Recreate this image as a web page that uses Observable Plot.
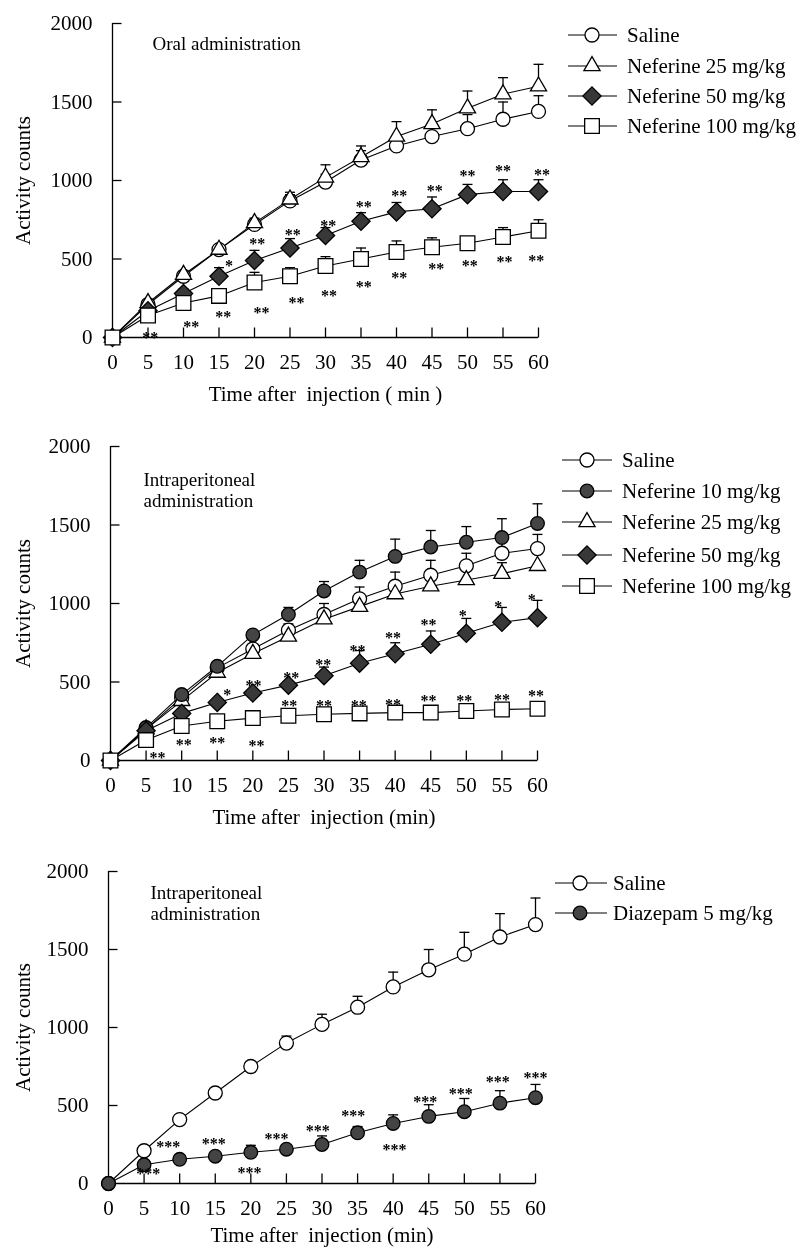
<!DOCTYPE html>
<html><head><meta charset="utf-8">
<script src="https://cdn.jsdelivr.net/npm/d3@7"></script>
<script src="https://cdn.jsdelivr.net/npm/@observablehq/plot@0.6"></script>
<style>
body{margin:0;background:#fff;}
#root{position:relative;width:801px;height:1250px;overflow:hidden;font-family:"Liberation Serif",serif;background:#fff;}
#root > svg, #root > figure{position:absolute;left:0;margin:0;will-change:transform;}
</style></head><body><div id="root"></div>
<script>
// ---------- data ----------
const time = [0,5,10,15,20,25,30,35,40,45,50,55,60];
const xTicks = [0,5,10,15,20,25,30,35,40,45,50,55,60];
const yTicks = [0,500,1000,1500,2000];

// Panel 1: oral administration
const p1Saline    = [0,210,390,560,720,870,990,1130,1220,1280,1330,1390,1440];
const p1SalineErr = [0,0,0,0,0,40,50,60,60,60,90,110,100];
const p1N25       = [0,220,400,560,730,880,1020,1150,1280,1360,1460,1550,1600];
const p1N25Err    = [0,0,0,20,30,45,80,70,95,90,110,105,140];
const p1N50       = [0,170,280,390,490,570,650,740,800,820,910,930,930];
const p1N50Err    = [0,0,30,55,65,60,50,55,60,75,65,75,75];
const p1N100      = [0,140,220,265,350,390,455,500,545,575,600,640,680];
const p1N100Err   = [0,0,0,0,65,55,60,70,70,60,0,60,70];
const p1SigX = [16.4,20.4,25.4,30.4,35.4,40.4,45.4,50,55,60.5, 5.3,11.1,15.6,21,25.9,30.5,35.4,40.4,45.6,50.3,55.2,59.7];
const p1SigY = [479,621,681,737,858,925,960,1053,1085,1064, 22,90,155,181,249,293,347,407,460,484,505,515];
const p1SigT = ["*","**","**","**","**","**","**","**","**","**", "**","**","**","**","**","**","**","**","**","**","**","**"];

// Panel 2: intraperitoneal neferine
const p2Saline    = [0,200,400,590,710,830,930,1030,1110,1180,1240,1320,1350];
const p2SalineErr = [0,0,0,0,0,40,70,75,90,95,80,80,90];
const p2N10       = [0,210,420,600,800,930,1080,1200,1300,1360,1390,1420,1510];
const p2N10Err    = [0,0,0,0,0,45,60,75,110,105,100,120,125];
const p2N25       = [0,200,380,560,680,790,900,980,1060,1110,1150,1190,1240];
const p2N25Err    = [0,0,0,0,0,30,40,50,60,70,70,70,0];
const p2N50       = [0,190,300,370,430,480,540,620,680,740,810,880,910];
const p2N50Err    = [0,0,0,0,0,0,55,80,70,85,95,95,110];
const p2N100      = [0,130,220,250,270,285,295,300,305,305,315,325,330];
const p2N100Err   = [0,0,0,0,20,0,0,0,0,0,0,0,0];
const p2SigX = [16.4,20.1,25.4,29.9,34.7,39.7,44.7,49.5,54.5,59.2, 6.6,10.3,15,20.5,25.1,30,34.9,39.7,44.7,49.7,55,59.8];
const p2SigY = [446,503,552,633,722,807,892,945,1002,1051, 43,125,138,117,372,372,372,382,403,403,414,435];
const p2SigT = ["*","**","**","**","**","**","**","*","*","*", "**","**","**","**","**","**","**","**","**","**","**","**"];

// Panel 3: intraperitoneal diazepam
const p3Saline    = [0,210,410,580,750,900,1020,1130,1260,1370,1470,1580,1660];
const p3SalineErr = [0,0,0,0,0,45,65,70,95,130,140,150,170];
const p3Diaz      = [0,120,155,175,200,220,250,325,385,430,460,515,550];
const p3DiazErr   = [0,0,0,0,45,0,55,40,55,75,85,80,85];
const p3SigX = [5.6,8.4,14.8,19.8,23.6,29.4,34.4,40.2,44.5,49.5,54.7,60];
const p3SigY = [90,262,280,92,312,363,459,241,551,598,675,705];
const p3SigT = ["***","***","***","***","***","***","***","***","***","***","***","***"];

// ---------- styling helpers ----------
const FONT = "Liberation Serif";
const tickUp = {draw(ctx){ctx.moveTo(0,0);ctx.lineTo(0,-10);}};
const tickRight = {draw(ctx){ctx.moveTo(0,0);ctx.lineTo(9,0);}};
const capSym = {draw(ctx){ctx.moveTo(-5,0);ctx.lineTo(5,0);}};

const STY = {
  saline:  {symbol:"circle",   r:7,   fill:"white"},
  nefFill: {symbol:"circle",   r:6.8, fill:"#444444"},
  tri:     {symbol:"triangle", r:6,   fill:"white"},
  dia:     {symbol:"diamond2", r:8.2, fill:"#383838"},
  sq:      {symbol:"square",   r:8.3, fill:"white"}
};

function rows(vals, errs){ return time.map((t,i)=>({t, v:vals[i], e:errs[i]})); }

function panel(cfg){
  const series = cfg.series.map(s => ({...s, data: rows(s.values, s.errs)}));
  const sig = cfg.sigX.map((x,i)=>({x, y:cfg.sigY[i], s:cfg.sigT[i]}));
  const marks = [
    Plot.ruleY([0], {x1: xTicks[0], x2: xTicks[xTicks.length-1], stroke:"black", strokeWidth:1.3}),
    Plot.ruleX([0], {y1: yTicks[0], y2: yTicks[yTicks.length-1], stroke:"black", strokeWidth:1.3}),
    Plot.dot(xTicks.filter(d=>d>0), {x:d=>d, y:()=>0, symbol:tickUp, fill:"none", stroke:"black", strokeWidth:1.3}),
    Plot.dot(yTicks.filter(d=>d>0), {x:()=>0, y:d=>d, symbol:tickRight, fill:"none", stroke:"black", strokeWidth:1.3}),
  ];
  for (const s of series) {
    marks.push(Plot.line(s.data, {x:"t", y:"v", stroke:"black", strokeWidth:1.1}));
  }
  for (const s of series) {
    const eb = s.data.filter(d=>d.e>0);
    marks.push(Plot.ruleX(eb, {x:"t", y1:"v", y2:d=>d.v+d.e, stroke:"black", strokeWidth:1.3}));
    marks.push(Plot.dot(eb, {x:"t", y:d=>d.v+d.e, symbol:capSym, fill:"none", stroke:"black", strokeWidth:1.3}));
  }
  for (const s of series) {
    marks.push(Plot.dot(s.data, {x:"t", y:"v", symbol:s.style.symbol, r:s.style.r, fill:s.style.fill, stroke:"black", strokeWidth:1.3}));
  }
  marks.push(Plot.text(sig, {x:"x", y:"y", text:"s", fontSize:16, dy:4, fill:"black", fontWeight:"bold"}));
  marks.push(Plot.text([cfg.note], {frameAnchor:"top-left", dx:cfg.noteDx, dy:cfg.noteDy, textAnchor:"start", lineAnchor:"middle", fontSize:19, lineHeight:1.1}));
  marks.push(Plot.text(["Activity counts"], {frameAnchor:"left", dx:-(cfg.ml-23), rotate:-90, textAnchor:"middle", lineAnchor:"middle", fontSize:21}));
  marks.push(Plot.text([cfg.xTitle], {frameAnchor:"bottom", dy:cfg.xTitleDy, textAnchor:"middle", lineAnchor:"middle", fontSize:21}));

  const chart = Plot.plot({
    width: 801, height: cfg.height,
    marginLeft: cfg.ml, marginRight: 801 - cfg.xr, marginTop: 23, marginBottom: cfg.height - 23 - cfg.ph,
    style: {fontFamily: FONT, fontSize: "21px", background: "transparent", color: "black", overflow: "visible"},
    x: {domain:[0,60], ticks: xTicks, tickSize: 0, tickPadding: 17, label: null, tickFormat: d3.format("d")},
    y: {domain:[0,2000], ticks: yTicks, tickSize: 0, tickPadding: 20, label: null, tickFormat: d3.format("d")},
    marks
  });
  chart.style.top = cfg.top + "px";
  document.getElementById("root").appendChild(chart);
}

panel({
  top: 0, height: 415, ml: 112, xr: 538, ph: 314,
  note: "Oral administration", noteDx: 40, noteDy: 20,
  xTitle: "Time after\u00a0 injection ( min )", xTitleDy: 57,
  sigX: p1SigX, sigY: p1SigY, sigT: p1SigT,
  series: [
    {values:p1Saline, errs:p1SalineErr, style:STY.saline},
    {values:p1N25, errs:p1N25Err, style:STY.tri},
    {values:p1N50, errs:p1N50Err, style:STY.dia},
    {values:p1N100, errs:p1N100Err, style:STY.sq}
  ]
});
panel({
  top: 423, height: 425, ml: 110, xr: 537, ph: 314,
  note: "Intraperitoneal\nadministration", noteDx: 33, noteDy: 43,
  xTitle: "Time after\u00a0 injection (min)", xTitleDy: 57,
  sigX: p2SigX, sigY: p2SigY, sigT: p2SigT,
  series: [
    {values:p2Saline, errs:p2SalineErr, style:STY.saline},
    {values:p2N25, errs:p2N25Err, style:STY.tri},
    {values:p2N10, errs:p2N10Err, style:STY.nefFill},
    {values:p2N50, errs:p2N50Err, style:STY.dia},
    {values:p2N100, errs:p2N100Err, style:STY.sq}
  ]
});
panel({
  top: 848, height: 402, ml: 108, xr: 535, ph: 312,
  note: "Intraperitoneal\nadministration", noteDx: 42, noteDy: 31,
  xTitle: "Time after\u00a0 injection (min)", xTitleDy: 52,
  sigX: p3SigX, sigY: p3SigY, sigT: p3SigT,
  series: [
    {values:p3Saline, errs:p3SalineErr, style:STY.saline},
    {values:p3Diaz, errs:p3DiazErr, style:STY.nefFill}
  ]
});

// ---------- legends ----------
const legend1Labels = ["Saline","Neferine 25 mg/kg","Neferine 50 mg/kg","Neferine 100 mg/kg"];
const legend2Labels = ["Saline","Neferine 10 mg/kg","Neferine 25 mg/kg","Neferine 50 mg/kg","Neferine 100 mg/kg"];
const legend3Labels = ["Saline","Diazepam 5 mg/kg"];
const legends = [
  {labels:legend1Labels, styles:[STY.saline,STY.tri,STY.dia,STY.sq], ys:[35,66,96,126], x1:568, x2:617, cx:592, tx:627},
  {labels:legend2Labels, styles:[STY.saline,STY.nefFill,STY.tri,STY.dia,STY.sq], ys:[460,491,522,555,586], x1:562, x2:612, cx:587, tx:622},
  {labels:legend3Labels, styles:[STY.saline,STY.nefFill], ys:[883,913], x1:555, x2:607, cx:580, tx:613}
];
const symMap = {circle:d3.symbolCircle, triangle:d3.symbolTriangle, diamond2:d3.symbolDiamond2, square:d3.symbolSquare};
const lsvg = d3.select("#root").append("svg").attr("width",801).attr("height",1250).style("top","0px").style("pointer-events","none");
for (const L of legends) {
  L.labels.forEach((lab,i)=>{
    const y = L.ys[i], st = L.styles[i];
    lsvg.append("line").attr("x1",L.x1).attr("x2",L.x2).attr("y1",y).attr("y2",y).attr("stroke","black").attr("stroke-width",1.1);
    lsvg.append("path").attr("d", d3.symbol(symMap[st.symbol], Math.PI*st.r*st.r)())
      .attr("transform",`translate(${L.cx},${y})`).attr("fill",st.fill).attr("stroke","black").attr("stroke-width",1.3);
    lsvg.append("text").attr("x",L.tx).attr("y",y).attr("dy","0.35em").attr("font-family",FONT).attr("font-size",21).text(lab);
  });
}
</script></body></html>
